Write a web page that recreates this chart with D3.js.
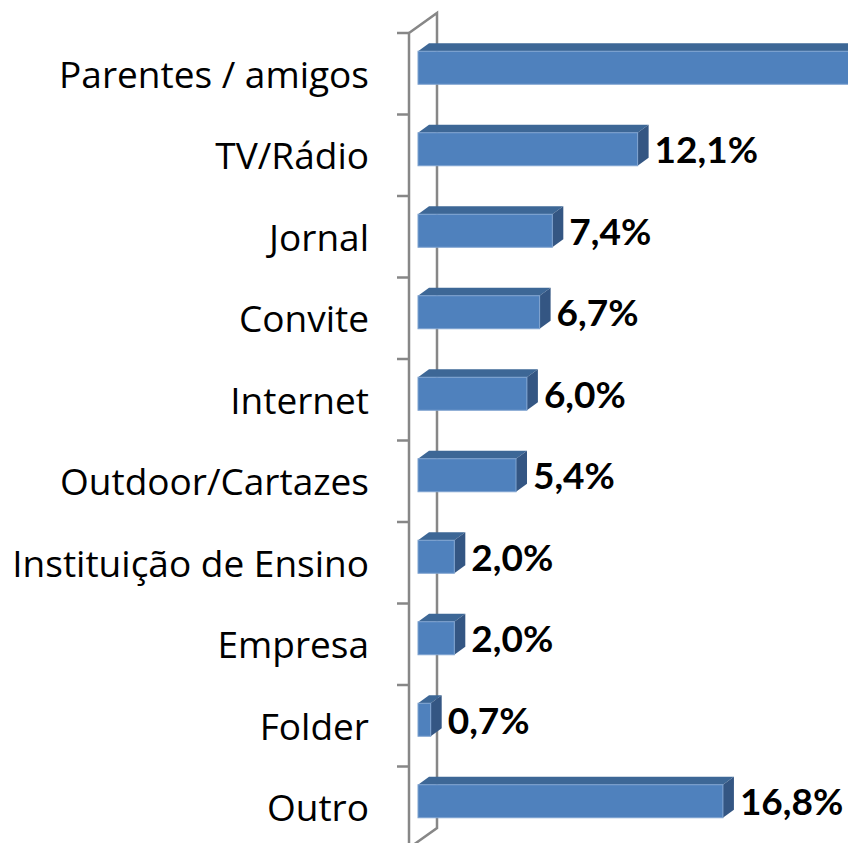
<!DOCTYPE html>
<html>
<head>
<meta charset="utf-8">
<script src="https://cdn.jsdelivr.net/npm/d3@7"></script>
<style>
  body { margin: 0; background: #fff; }
  svg { display: block; }
</style>
</head>
<body>
<svg id="chart" width="848" height="843"></svg>
<script>
// categories top to bottom, values in %
const categories = ['Parentes / amigos', 'TV/Rádio', 'Jornal', 'Convite', 'Internet',
  'Outdoor/Cartazes', 'Instituição de Ensino', 'Empresa', 'Folder', 'Outro'];
const values = [40.9, 12.1, 7.4, 6.7, 6.0, 5.4, 2.0, 2.0, 0.7, 16.8];
const valueLabels = ['40,9%', '12,1%', '7,4%', '6,7%', '6,0%', '5,4%', '2,0%', '2,0%', '0,7%', '16,8%'];

const svg = d3.select('#chart');

// 3d offsets: wall depth and bar depth
const wall = { dx: 28, dy: -20 };
const bar = { dx: 11, dy: -8 };
const front = { dx: 9, dy: -6 }; // bar front face sits a bit behind the front plane

const axisX = 409;

const y = d3.scaleBand()
  .domain(categories)
  .range([33, 848])
  .paddingInner(0.595)
  .paddingOuter(0.2975);

const x = d3.scaleLinear()
  .domain([0, 45])
  .range([axisX + front.dx, axisX + front.dx + 45 * 18.15]);

// walls (left side of the 3d box)
const gray = '#878787';
const y0 = y.range()[0], y1 = y.range()[1];
svg.append('path')
  .attr('d', `M${axisX},${y0} L${axisX + wall.dx},${y0 + wall.dy} L${axisX + wall.dx},${y1 + wall.dy} L${axisX},${y1} Z`)
  .attr('fill', 'none')
  .attr('stroke', gray)
  .attr('stroke-width', 2.5);

// ticks at band boundaries
const tickYs = categories.map(c => y(c) - y.step() * y.paddingOuter()).concat([y1]);
svg.append('g').selectAll('line')
  .data(tickYs)
  .enter()
  .append('line')
  .attr('x1', axisX - 12)
  .attr('x2', axisX)
  .attr('y1', d => d)
  .attr('y2', d => d)
  .attr('stroke', gray)
  .attr('stroke-width', 2.5);

// category labels
svg.append('g').selectAll('text')
  .data(categories)
  .enter()
  .append('text')
  .attr('x', 369)
  .attr('y', d => y(d) + y.bandwidth() / 2 + 14)
  .attr('text-anchor', 'end')
  .style('font-family', '"Open Sans", sans-serif')
  .style('font-size', '37px')
  .style('fill', '#000')
  .text(d => d);

// bars
const data = categories.map((c, i) => ({ cat: c, value: values[i], label: valueLabels[i] }));
const bars = svg.append('g').selectAll('g')
  .data(data)
  .enter()
  .append('g');

const topY = d => y(d.cat) + front.dy;
const botY = d => topY(d) + y.bandwidth();

// top face
bars.append('path')
  .attr('d', d => `M${x(0)},${topY(d)} L${x(0) + bar.dx},${topY(d) + bar.dy} L${x(d.value) + bar.dx},${topY(d) + bar.dy} L${x(d.value)},${topY(d)} Z`)
  .attr('fill', '#3D6796');

// side face
bars.append('path')
  .attr('d', d => `M${x(d.value)},${topY(d)} L${x(d.value) + bar.dx},${topY(d) + bar.dy} L${x(d.value) + bar.dx},${botY(d) + bar.dy} L${x(d.value)},${botY(d)} Z`)
  .attr('fill', '#345683');

// front face
bars.append('rect')
  .attr('x', x(0))
  .attr('y', d => topY(d))
  .attr('width', d => x(d.value) - x(0))
  .attr('height', y.bandwidth())
  .attr('fill', '#4F81BD')
  .attr('stroke', '#7FA3D0')
  .attr('stroke-width', 1);

// value labels
bars.append('text')
  .attr('x', d => x(d.value) + bar.dx + 6)
  .attr('y', d => topY(d) + y.bandwidth() / 2 + 14)
  .style('font-family', 'Lato, "Open Sans", sans-serif')
  .style('font-weight', 'bold')
  .style('font-size', '37px')
  .style('fill', '#000')
  .text(d => d.label);
</script>
</body>
</html>
